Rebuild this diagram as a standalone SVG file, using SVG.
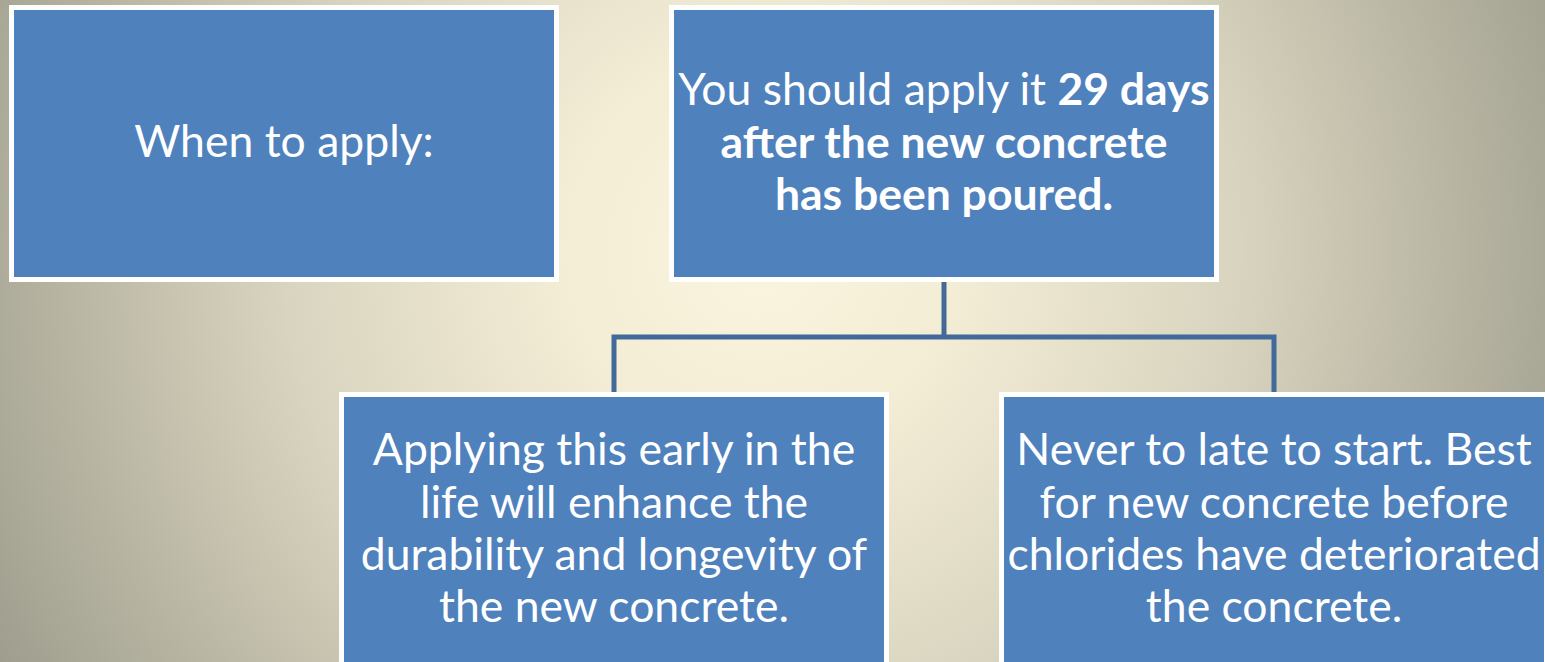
<svg xmlns="http://www.w3.org/2000/svg" width="1545" height="662" viewBox="0 0 1545 662">
  <defs>
    <radialGradient id="bg" gradientUnits="userSpaceOnUse" cx="760" cy="250" r="900">
      <stop offset="0" stop-color="#fbf5df"/>
      <stop offset="0.22" stop-color="#f3edd6"/>
      <stop offset="0.53" stop-color="#d9d4bf"/>
      <stop offset="0.89" stop-color="#a8a695"/>
      <stop offset="1" stop-color="#9a988a"/>
    </radialGradient>
    <style>
      .box { fill: #4f81bd; stroke: #ffffff; stroke-width: 5; }
      .txt { fill: #ffffff; font-family: Lato, "Liberation Sans", sans-serif; font-size: 44.5px; text-anchor: middle; }
      .b { font-weight: bold; }
      .conn { fill: none; stroke: #41699a; stroke-width: 5; }
    </style>
  </defs>
  <rect x="0" y="0" width="1545" height="662" fill="url(#bg)"/>

  <g id="connectors">
    <path class="conn" d="M944 282 V337"/>
    <path class="conn" d="M614 392 V337 H1274 V392"/>
  </g>

  <g id="node-when">
    <rect class="box" x="11.5" y="7.5" width="545" height="272"/>
    <text class="txt" x="284" y="157">When to apply:</text>
  </g>

  <g id="node-days">
    <rect class="box" x="671.5" y="7.5" width="545" height="272"/>
    <text class="txt" x="944" y="105">You should apply it <tspan class="b">29 days</tspan></text>
    <text class="txt b" x="944" y="157.5">after the new concrete</text>
    <text class="txt b" x="944" y="210">has been poured.</text>
  </g>

  <g id="node-early">
    <rect class="box" x="341.5" y="394.5" width="545" height="272"/>
    <text class="txt" x="614" y="465">Applying this early in the</text>
    <text class="txt" x="614" y="517.5">life will enhance the</text>
    <text class="txt" x="614" y="570">durability and longevity of</text>
    <text class="txt" x="614" y="622">the new concrete.</text>
  </g>

  <g id="node-late">
    <rect class="box" x="1001.5" y="394.5" width="545" height="272"/>
    <text class="txt" x="1274" y="465">Never to late to start. Best</text>
    <text class="txt" x="1274" y="517.5">for new concrete before</text>
    <text class="txt" x="1274" y="570">chlorides have deteriorated</text>
    <text class="txt" x="1274" y="622">the concrete.</text>
  </g>
</svg>
